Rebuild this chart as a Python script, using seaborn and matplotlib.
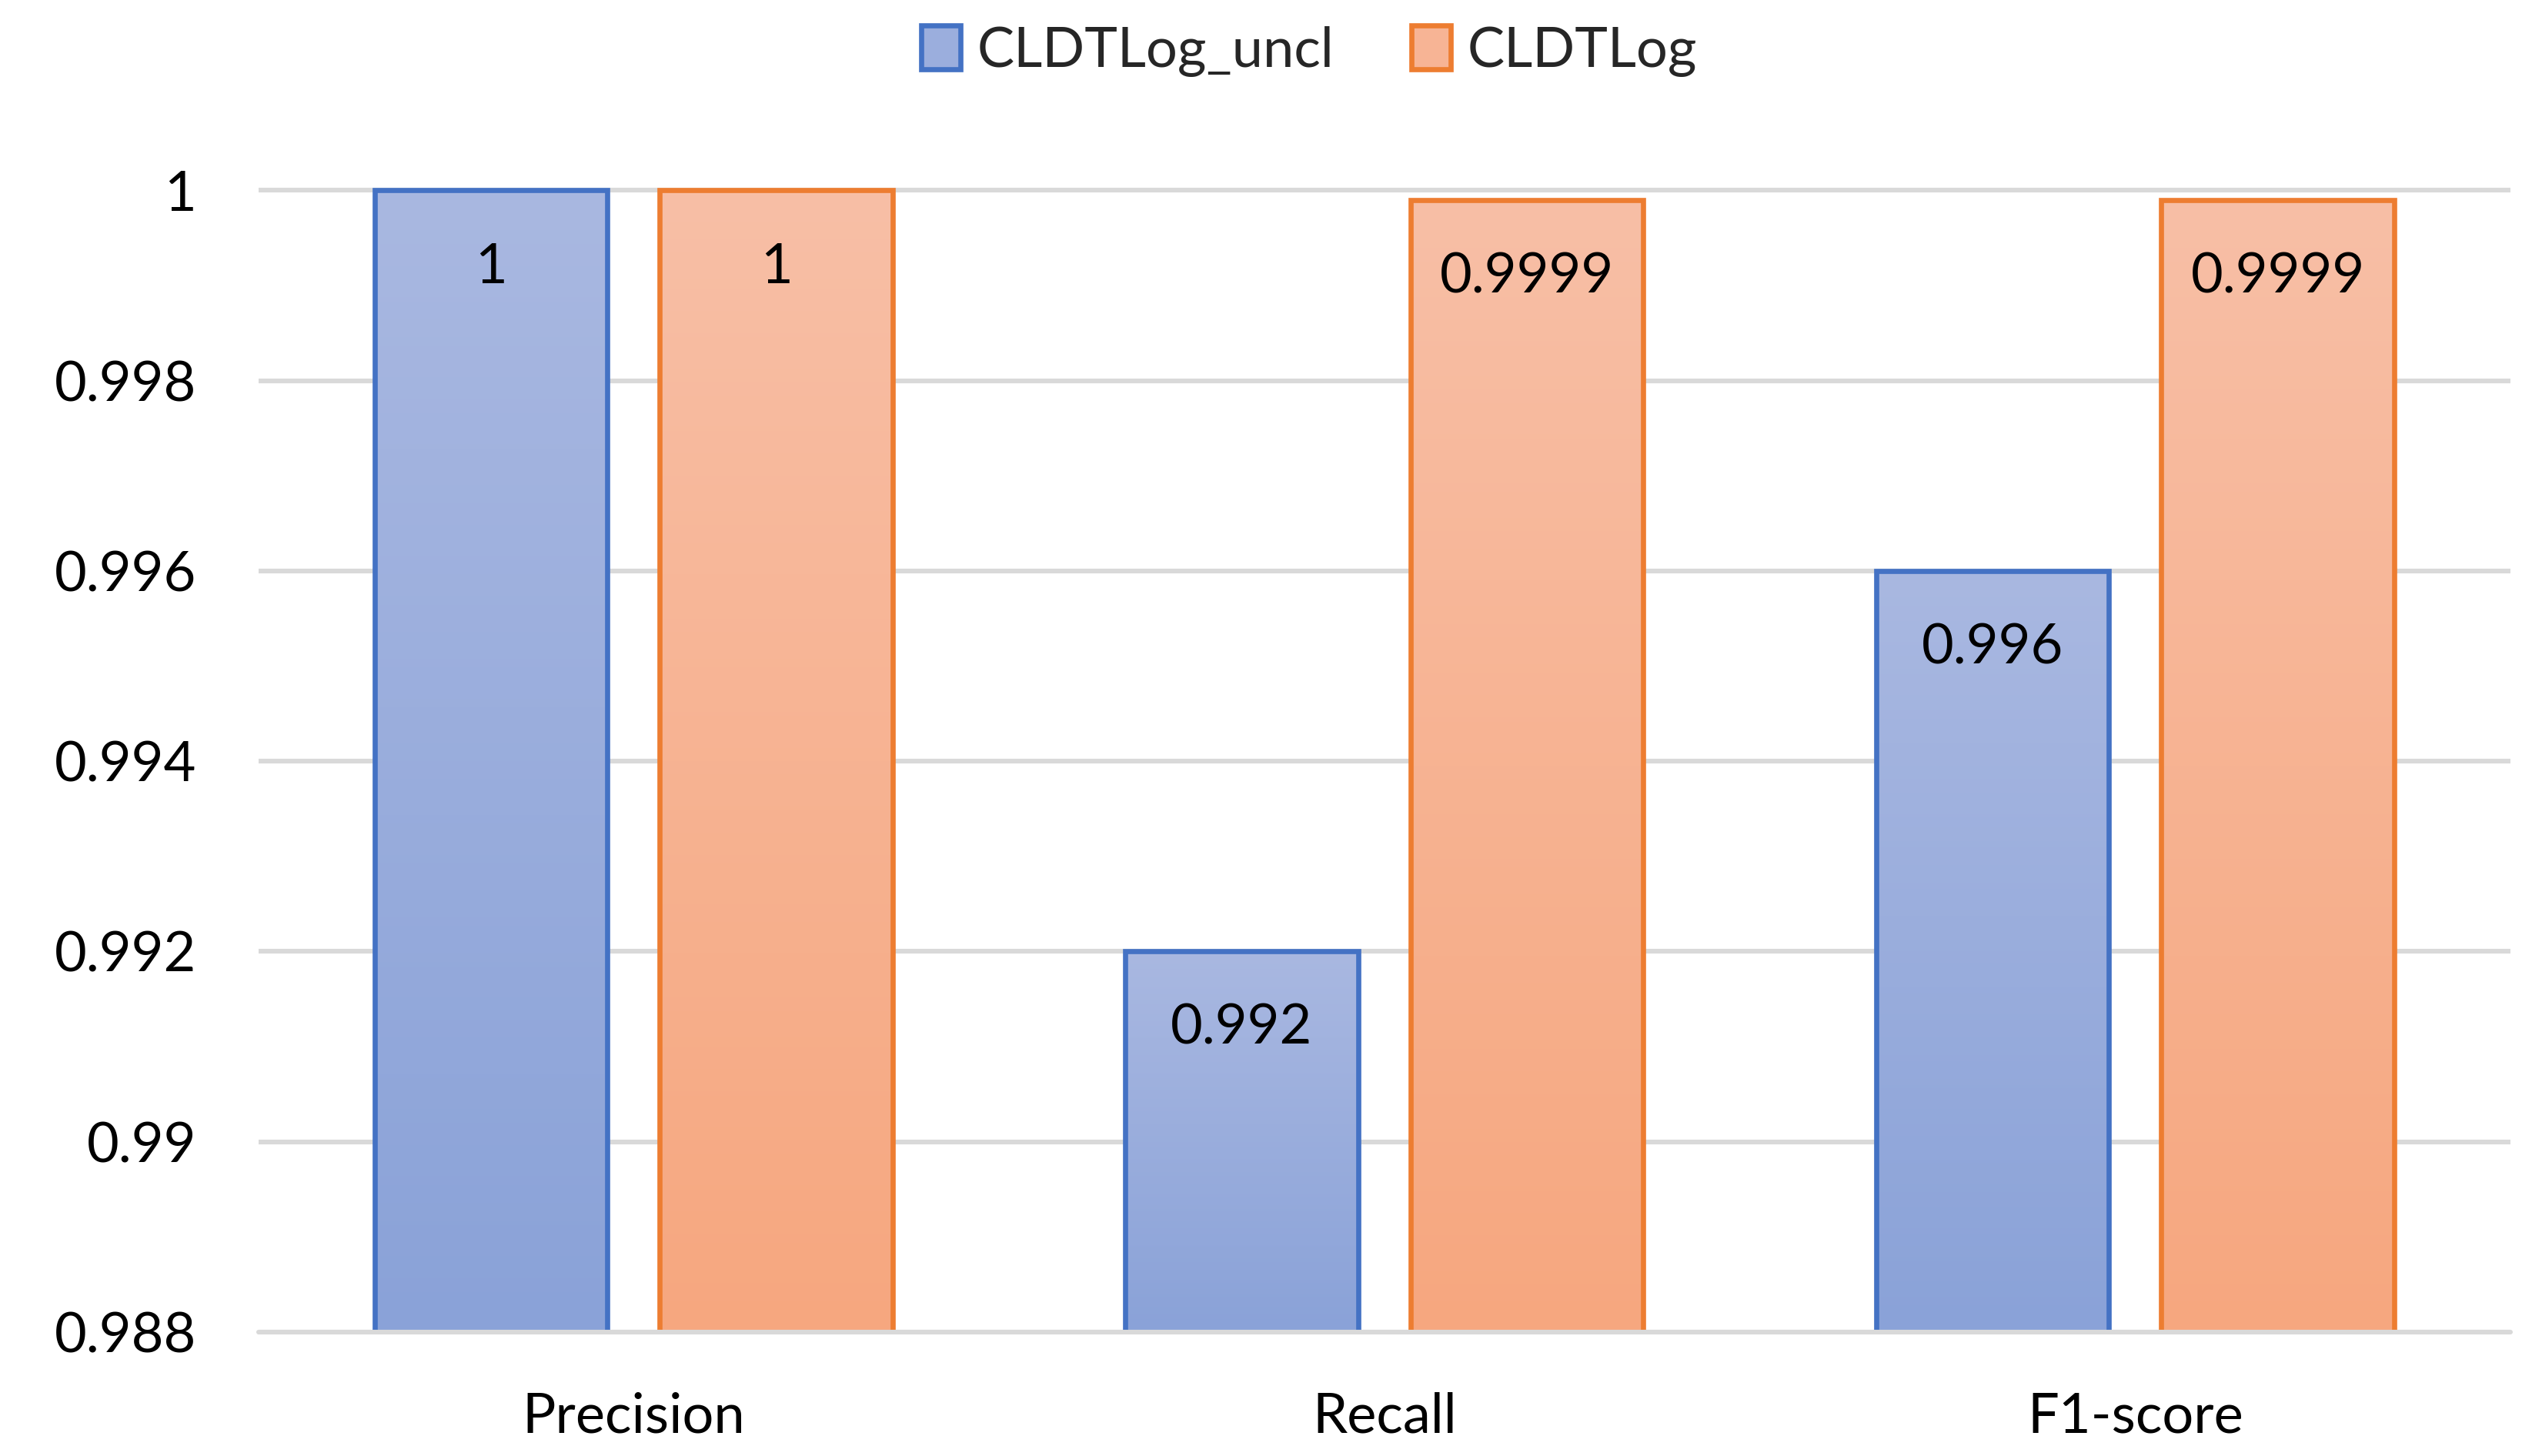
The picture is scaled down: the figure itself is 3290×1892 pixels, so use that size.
import numpy as np
import pandas as pd
import matplotlib
matplotlib.use('Agg')
import matplotlib.pyplot as plt
import seaborn as sns
from matplotlib.colors import LinearSegmentedColormap
from matplotlib.patches import Patch

metrics = ['Precision', 'Recall', 'F1-score']
models = ['CLDTLog_uncl', 'CLDTLog']
uncl_vals = [1, 0.992, 0.996]
cldt_vals = [1, 0.9999, 0.9999]
uncl_labels = ['1', '0.992', '0.996']
cldt_labels = ['1', '0.9999', '0.9999']
yticks = [0.988, 0.99, 0.992, 0.994, 0.996, 0.998, 1]
ytick_labels = ['0.988', '0.99', '0.992', '0.994', '0.996', '0.998', '1']

df = pd.DataFrame({
    'metric': metrics * 2,
    'model': [models[0]] * 3 + [models[1]] * 3,
    'value': uncl_vals + cldt_vals,
})

edge_cols = {'CLDTLog_uncl': '#4472C4', 'CLDTLog': '#ED7D31'}
grad_cols = {'CLDTLog_uncl': ('#A9B8E1', '#8AA2D8'),
             'CLDTLog': ('#F8BFA6', '#F6A77F')}

sns.set_theme(style='white')
plt.rcParams['font.family'] = ['Lato', 'DejaVu Sans']

fig = plt.figure(figsize=(16.45, 9.46), dpi=200)
ax = fig.add_axes([0.102, 0.0851, 0.8895, 0.7875])

sns.barplot(data=df, x='metric', y='value', hue='model', hue_order=models,
            palette=edge_cols, width=0.76, gap=0.184, ax=ax, legend=False,
            zorder=3)

ymin, ymax = 0.988, 1.00005
ax.set_ylim(ymin, ymax)
ax.set_xlim(-0.5, 2.5)

# gradient fills clipped to each bar
for container, model, labels in zip(ax.containers, models, [uncl_labels, cldt_labels]):
    top_c, bot_c = grad_cols[model]
    cmap = LinearSegmentedColormap.from_list(model, [bot_c, top_c])
    grad = np.linspace(0, 1, 256).reshape(-1, 1)
    for bar, lab in zip(container, labels):
        x0 = bar.get_x()
        w = bar.get_width()
        h = bar.get_height()
        bar.set_facecolor('none')
        bar.set_edgecolor(edge_cols[model])
        bar.set_linewidth(2.4)
        im = ax.imshow(grad, cmap=cmap, origin='lower', aspect='auto',
                       extent=[x0, x0 + w, ymin, h], zorder=2.5)
        im.set_clip_path(bar)
        ax.annotate(lab, (x0 + w / 2, h), xytext=(0, -36), textcoords='offset points',
                    ha='center', va='center', fontsize=26, color='black', zorder=5)

ax.set_xlim(-0.5, 2.5)
ax.set_ylim(ymin, ymax)

ax.set_yticks(yticks)
ax.set_yticklabels(ytick_labels)
ax.yaxis.grid(True, color='#D9D9D9', linewidth=2.2, zorder=0)
ax.set_axisbelow(True)
ax.axhline(ymin, color='#D9D9D9', linewidth=2.2, zorder=4, clip_on=False)
ax.tick_params(axis='both', length=0, labelsize=26, colors='black')
ax.tick_params(axis='y', pad=29)
ax.tick_params(axis='x', pad=28)
ax.set_xlabel('')
ax.set_ylabel('')
for s in ax.spines.values():
    s.set_visible(False)

handles = [Patch(facecolor='#9BAEDD', edgecolor=edge_cols[models[0]], linewidth=2.4),
           Patch(facecolor='#F7B495', edgecolor=edge_cols[models[1]], linewidth=2.4)]
fig.legend(handles, models, loc='center', bbox_to_anchor=(0.517, 0.965), ncol=2,
           frameon=False, fontsize=26, handlelength=0.7, handleheight=0.85,
           handletextpad=0.3, columnspacing=1.4)

fig.savefig('out.png', dpi=200)
